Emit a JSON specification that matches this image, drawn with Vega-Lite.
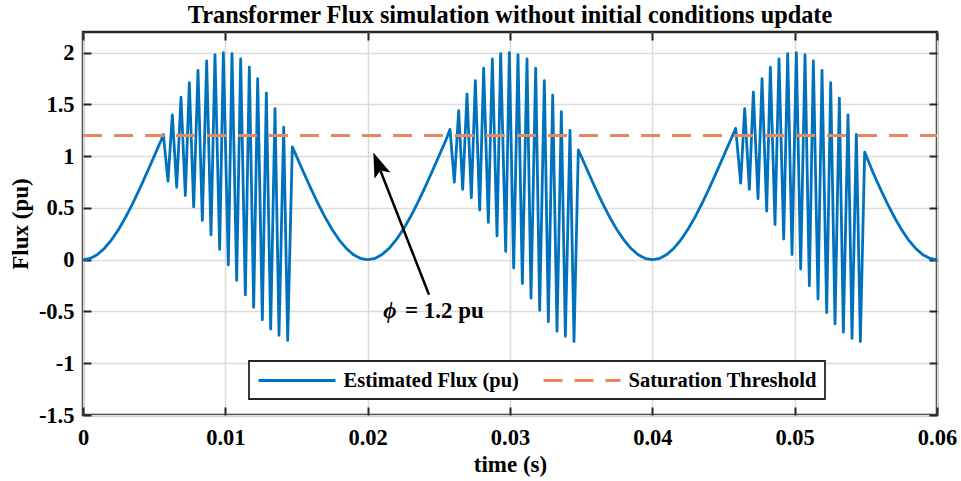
{
  "$schema": "https://vega.github.io/schema/vega-lite/v6.json",
  "width": 854,
  "height": 383,
  "autosize": {"type": "none"},
  "padding": {"left": 83, "top": 32, "right": 24, "bottom": 66},
  "background": "white",
  "title": {"text": "Transformer Flux simulation without initial conditions update", "font": "Liberation Serif", "fontSize": 24.3, "fontWeight": "bold", "color": "#000000", "anchor": "middle", "offset": 3},
  "config": {
    "view": {"stroke": "#262626", "strokeWidth": 2.5},
    "axis": {"labelFont": "Liberation Serif", "labelFontSize": 22.5, "labelFontWeight": "bold", "labelColor": "#000000", "titleFont": "Liberation Serif", "titleFontSize": 23, "titleFontWeight": "bold", "titleColor": "#000000", "domain": false, "tickColor": "#262626", "tickWidth": 2, "tickSize": -8, "gridColor": "#dcdcdc", "gridWidth": 1.5, "gridOpacity": 1, "labelOverlap": false, "labelFlush": false},
    "legend": {"strokeWidth": 1.8}
  },
  "datasets": {
    "flux": [
      {"t": 0, "v": 0, "s": "Estimated Flux (pu)"},
      {"t": 0.0005, "v": 0.0123, "s": "Estimated Flux (pu)"},
      {"t": 0.001, "v": 0.0489, "s": "Estimated Flux (pu)"},
      {"t": 0.0015, "v": 0.109, "s": "Estimated Flux (pu)"},
      {"t": 0.002, "v": 0.191, "s": "Estimated Flux (pu)"},
      {"t": 0.0025, "v": 0.2929, "s": "Estimated Flux (pu)"},
      {"t": 0.003, "v": 0.4122, "s": "Estimated Flux (pu)"},
      {"t": 0.0035, "v": 0.546, "s": "Estimated Flux (pu)"},
      {"t": 0.004, "v": 0.691, "s": "Estimated Flux (pu)"},
      {"t": 0.0045, "v": 0.8436, "s": "Estimated Flux (pu)"},
      {"t": 0.005, "v": 1.0, "s": "Estimated Flux (pu)"},
      {"t": 0.0055, "v": 1.1564, "s": "Estimated Flux (pu)"},
      {"t": 0.005644, "v": 1.21, "s": "Estimated Flux (pu)"},
      {"t": 0.005972, "v": 0.76, "s": "Estimated Flux (pu)"},
      {"t": 0.006276, "v": 1.40, "s": "Estimated Flux (pu)"},
      {"t": 0.006581, "v": 0.70, "s": "Estimated Flux (pu)"},
      {"t": 0.006885, "v": 1.57, "s": "Estimated Flux (pu)"},
      {"t": 0.00719, "v": 0.62, "s": "Estimated Flux (pu)"},
      {"t": 0.007471, "v": 1.71, "s": "Estimated Flux (pu)"},
      {"t": 0.007776, "v": 0.51, "s": "Estimated Flux (pu)"},
      {"t": 0.00808, "v": 1.83, "s": "Estimated Flux (pu)"},
      {"t": 0.008384, "v": 0.38, "s": "Estimated Flux (pu)"},
      {"t": 0.008689, "v": 1.92, "s": "Estimated Flux (pu)"},
      {"t": 0.008993, "v": 0.24, "s": "Estimated Flux (pu)"},
      {"t": 0.009274, "v": 1.98, "s": "Estimated Flux (pu)"},
      {"t": 0.009602, "v": 0.10, "s": "Estimated Flux (pu)"},
      {"t": 0.00986, "v": 2.0, "s": "Estimated Flux (pu)"},
      {"t": 0.010211, "v": -0.05, "s": "Estimated Flux (pu)"},
      {"t": 0.010469, "v": 1.99, "s": "Estimated Flux (pu)"},
      {"t": 0.010797, "v": -0.20, "s": "Estimated Flux (pu)"},
      {"t": 0.011078, "v": 1.94, "s": "Estimated Flux (pu)"},
      {"t": 0.011405, "v": -0.34, "s": "Estimated Flux (pu)"},
      {"t": 0.011686, "v": 1.86, "s": "Estimated Flux (pu)"},
      {"t": 0.011991, "v": -0.46, "s": "Estimated Flux (pu)"},
      {"t": 0.012272, "v": 1.75, "s": "Estimated Flux (pu)"},
      {"t": 0.0126, "v": -0.58, "s": "Estimated Flux (pu)"},
      {"t": 0.012881, "v": 1.61, "s": "Estimated Flux (pu)"},
      {"t": 0.013186, "v": -0.67, "s": "Estimated Flux (pu)"},
      {"t": 0.01349, "v": 1.46, "s": "Estimated Flux (pu)"},
      {"t": 0.013771, "v": -0.73, "s": "Estimated Flux (pu)"},
      {"t": 0.014099, "v": 1.28, "s": "Estimated Flux (pu)"},
      {"t": 0.01438, "v": -0.78, "s": "Estimated Flux (pu)"},
      {"t": 0.014707, "v": 1.09, "s": "Estimated Flux (pu)"},
      {"t": 0.015, "v": 1.0, "s": "Estimated Flux (pu)"},
      {"t": 0.0155, "v": 0.8436, "s": "Estimated Flux (pu)"},
      {"t": 0.016, "v": 0.691, "s": "Estimated Flux (pu)"},
      {"t": 0.0165, "v": 0.546, "s": "Estimated Flux (pu)"},
      {"t": 0.017, "v": 0.4122, "s": "Estimated Flux (pu)"},
      {"t": 0.0175, "v": 0.2929, "s": "Estimated Flux (pu)"},
      {"t": 0.018, "v": 0.191, "s": "Estimated Flux (pu)"},
      {"t": 0.0185, "v": 0.109, "s": "Estimated Flux (pu)"},
      {"t": 0.019, "v": 0.0489, "s": "Estimated Flux (pu)"},
      {"t": 0.0195, "v": 0.0123, "s": "Estimated Flux (pu)"},
      {"t": 0.02, "v": 0, "s": "Estimated Flux (pu)"},
      {"t": 0.0205, "v": 0.0123, "s": "Estimated Flux (pu)"},
      {"t": 0.021, "v": 0.0489, "s": "Estimated Flux (pu)"},
      {"t": 0.0215, "v": 0.109, "s": "Estimated Flux (pu)"},
      {"t": 0.022, "v": 0.191, "s": "Estimated Flux (pu)"},
      {"t": 0.0225, "v": 0.2929, "s": "Estimated Flux (pu)"},
      {"t": 0.023, "v": 0.4122, "s": "Estimated Flux (pu)"},
      {"t": 0.0235, "v": 0.546, "s": "Estimated Flux (pu)"},
      {"t": 0.024, "v": 0.691, "s": "Estimated Flux (pu)"},
      {"t": 0.0245, "v": 0.8436, "s": "Estimated Flux (pu)"},
      {"t": 0.025, "v": 1.0, "s": "Estimated Flux (pu)"},
      {"t": 0.0255, "v": 1.1564, "s": "Estimated Flux (pu)"},
      {"t": 0.025785, "v": 1.26, "s": "Estimated Flux (pu)"},
      {"t": 0.026089, "v": 0.75, "s": "Estimated Flux (pu)"},
      {"t": 0.026394, "v": 1.44, "s": "Estimated Flux (pu)"},
      {"t": 0.026675, "v": 0.68, "s": "Estimated Flux (pu)"},
      {"t": 0.02698, "v": 1.60, "s": "Estimated Flux (pu)"},
      {"t": 0.027284, "v": 0.60, "s": "Estimated Flux (pu)"},
      {"t": 0.027565, "v": 1.73, "s": "Estimated Flux (pu)"},
      {"t": 0.02787, "v": 0.48, "s": "Estimated Flux (pu)"},
      {"t": 0.02815, "v": 1.85, "s": "Estimated Flux (pu)"},
      {"t": 0.028478, "v": 0.36, "s": "Estimated Flux (pu)"},
      {"t": 0.028759, "v": 1.94, "s": "Estimated Flux (pu)"},
      {"t": 0.029087, "v": 0.23, "s": "Estimated Flux (pu)"},
      {"t": 0.029345, "v": 1.99, "s": "Estimated Flux (pu)"},
      {"t": 0.029697, "v": 0.08, "s": "Estimated Flux (pu)"},
      {"t": 0.029954, "v": 2.0, "s": "Estimated Flux (pu)"},
      {"t": 0.030259, "v": -0.08, "s": "Estimated Flux (pu)"},
      {"t": 0.030562, "v": 1.98, "s": "Estimated Flux (pu)"},
      {"t": 0.030867, "v": -0.23, "s": "Estimated Flux (pu)"},
      {"t": 0.031195, "v": 1.94, "s": "Estimated Flux (pu)"},
      {"t": 0.031476, "v": -0.37, "s": "Estimated Flux (pu)"},
      {"t": 0.031804, "v": 1.85, "s": "Estimated Flux (pu)"},
      {"t": 0.032085, "v": -0.49, "s": "Estimated Flux (pu)"},
      {"t": 0.032413, "v": 1.73, "s": "Estimated Flux (pu)"},
      {"t": 0.032694, "v": -0.60, "s": "Estimated Flux (pu)"},
      {"t": 0.032999, "v": 1.59, "s": "Estimated Flux (pu)"},
      {"t": 0.033303, "v": -0.69, "s": "Estimated Flux (pu)"},
      {"t": 0.033607, "v": 1.43, "s": "Estimated Flux (pu)"},
      {"t": 0.033888, "v": -0.74, "s": "Estimated Flux (pu)"},
      {"t": 0.034216, "v": 1.25, "s": "Estimated Flux (pu)"},
      {"t": 0.034497, "v": -0.79, "s": "Estimated Flux (pu)"},
      {"t": 0.034801, "v": 1.06, "s": "Estimated Flux (pu)"},
      {"t": 0.035, "v": 1.0, "s": "Estimated Flux (pu)"},
      {"t": 0.0355, "v": 0.8436, "s": "Estimated Flux (pu)"},
      {"t": 0.036, "v": 0.691, "s": "Estimated Flux (pu)"},
      {"t": 0.0365, "v": 0.546, "s": "Estimated Flux (pu)"},
      {"t": 0.037, "v": 0.4122, "s": "Estimated Flux (pu)"},
      {"t": 0.0375, "v": 0.2929, "s": "Estimated Flux (pu)"},
      {"t": 0.038, "v": 0.191, "s": "Estimated Flux (pu)"},
      {"t": 0.0385, "v": 0.109, "s": "Estimated Flux (pu)"},
      {"t": 0.039, "v": 0.0489, "s": "Estimated Flux (pu)"},
      {"t": 0.0395, "v": 0.0123, "s": "Estimated Flux (pu)"},
      {"t": 0.04, "v": 0, "s": "Estimated Flux (pu)"},
      {"t": 0.0405, "v": 0.0123, "s": "Estimated Flux (pu)"},
      {"t": 0.041, "v": 0.0489, "s": "Estimated Flux (pu)"},
      {"t": 0.0415, "v": 0.109, "s": "Estimated Flux (pu)"},
      {"t": 0.042, "v": 0.191, "s": "Estimated Flux (pu)"},
      {"t": 0.0425, "v": 0.2929, "s": "Estimated Flux (pu)"},
      {"t": 0.043, "v": 0.4122, "s": "Estimated Flux (pu)"},
      {"t": 0.0435, "v": 0.546, "s": "Estimated Flux (pu)"},
      {"t": 0.044, "v": 0.691, "s": "Estimated Flux (pu)"},
      {"t": 0.0445, "v": 0.8436, "s": "Estimated Flux (pu)"},
      {"t": 0.045, "v": 1.0, "s": "Estimated Flux (pu)"},
      {"t": 0.0455, "v": 1.1564, "s": "Estimated Flux (pu)"},
      {"t": 0.045856, "v": 1.27, "s": "Estimated Flux (pu)"},
      {"t": 0.046207, "v": 0.74, "s": "Estimated Flux (pu)"},
      {"t": 0.046488, "v": 1.46, "s": "Estimated Flux (pu)"},
      {"t": 0.046816, "v": 0.68, "s": "Estimated Flux (pu)"},
      {"t": 0.047097, "v": 1.62, "s": "Estimated Flux (pu)"},
      {"t": 0.047425, "v": 0.59, "s": "Estimated Flux (pu)"},
      {"t": 0.047706, "v": 1.75, "s": "Estimated Flux (pu)"},
      {"t": 0.048034, "v": 0.47, "s": "Estimated Flux (pu)"},
      {"t": 0.048291, "v": 1.86, "s": "Estimated Flux (pu)"},
      {"t": 0.048619, "v": 0.34, "s": "Estimated Flux (pu)"},
      {"t": 0.0489, "v": 1.94, "s": "Estimated Flux (pu)"},
      {"t": 0.049228, "v": 0.20, "s": "Estimated Flux (pu)"},
      {"t": 0.04951, "v": 1.99, "s": "Estimated Flux (pu)"},
      {"t": 0.049814, "v": 0.05, "s": "Estimated Flux (pu)"},
      {"t": 0.050118, "v": 2.0, "s": "Estimated Flux (pu)"},
      {"t": 0.050423, "v": -0.09, "s": "Estimated Flux (pu)"},
      {"t": 0.050727, "v": 1.98, "s": "Estimated Flux (pu)"},
      {"t": 0.051031, "v": -0.25, "s": "Estimated Flux (pu)"},
      {"t": 0.051313, "v": 1.92, "s": "Estimated Flux (pu)"},
      {"t": 0.05164, "v": -0.38, "s": "Estimated Flux (pu)"},
      {"t": 0.051922, "v": 1.83, "s": "Estimated Flux (pu)"},
      {"t": 0.05225, "v": -0.51, "s": "Estimated Flux (pu)"},
      {"t": 0.052531, "v": 1.71, "s": "Estimated Flux (pu)"},
      {"t": 0.052835, "v": -0.62, "s": "Estimated Flux (pu)"},
      {"t": 0.053139, "v": 1.56, "s": "Estimated Flux (pu)"},
      {"t": 0.05342, "v": -0.70, "s": "Estimated Flux (pu)"},
      {"t": 0.053748, "v": 1.40, "s": "Estimated Flux (pu)"},
      {"t": 0.05403, "v": -0.76, "s": "Estimated Flux (pu)"},
      {"t": 0.054334, "v": 1.21, "s": "Estimated Flux (pu)"},
      {"t": 0.054615, "v": -0.79, "s": "Estimated Flux (pu)"},
      {"t": 0.054919, "v": 1.04, "s": "Estimated Flux (pu)"},
      {"t": 0.0555, "v": 0.8436, "s": "Estimated Flux (pu)"},
      {"t": 0.056, "v": 0.691, "s": "Estimated Flux (pu)"},
      {"t": 0.0565, "v": 0.546, "s": "Estimated Flux (pu)"},
      {"t": 0.057, "v": 0.4122, "s": "Estimated Flux (pu)"},
      {"t": 0.0575, "v": 0.2929, "s": "Estimated Flux (pu)"},
      {"t": 0.058, "v": 0.191, "s": "Estimated Flux (pu)"},
      {"t": 0.0585, "v": 0.109, "s": "Estimated Flux (pu)"},
      {"t": 0.059, "v": 0.0489, "s": "Estimated Flux (pu)"},
      {"t": 0.0595, "v": 0.0123, "s": "Estimated Flux (pu)"},
      {"t": 0.06, "v": 0, "s": "Estimated Flux (pu)"},
      {"t": 0, "v": 1.2, "s": "Saturation Threshold"},
      {"t": 0.06, "v": 1.2, "s": "Saturation Threshold"}
    ],
    "arrow": [
      {"t": 0.02431, "v": -0.339, "t2": 0.0209, "v2": 0.86}
    ],
    "head": [
      {"t": 0.0204, "v": 1.037}
    ],
    "phi": [
      {"t": 0.02157, "v": -0.5, "label": "ϕ"}
    ],
    "eq": [
      {"t": 0.02262, "v": -0.5, "label": "= 1.2 pu"}
    ]
  },
  "layer": [
    {
      "data": {"name": "flux"},
      "mark": {"type": "line", "strokeWidth": 2.8, "strokeJoin": "round"},
      "encoding": {
        "x": {"field": "t", "type": "quantitative", "scale": {"domain": [0, 0.06], "nice": false, "zero": false},
              "axis": {"orient": "bottom", "values": [0, 0.01, 0.02, 0.03, 0.04, 0.05, 0.06], "labelExpr": "'' + datum.value", "labelPadding": 19, "title": "time (s)", "titlePadding": 5, "grid": true}},
        "y": {"field": "v", "type": "quantitative", "scale": {"domain": [-1.5, 2.2], "nice": false, "zero": false},
              "axis": {"orient": "left", "values": [-1.5, -1, -0.5, 0, 0.5, 1, 1.5, 2], "labelExpr": "'' + datum.value", "labelPadding": 17, "title": "Flux (pu)", "titlePadding": 6, "grid": true}},
        "color": {"field": "s", "type": "nominal",
                  "scale": {"domain": ["Estimated Flux (pu)", "Saturation Threshold"], "range": ["#0072BD", "#E8875B"]},
                  "legend": {"title": null, "orient": "none", "legendX": 166, "legendY": 329, "direction": "horizontal", "symbolType": "M-3.85,0L3.85,0", "symbolSize": 400, "symbolOffset": 28.5, "symbolStrokeWidth": 2.8, "labelFont": "Liberation Serif", "labelFontSize": 20.5, "labelFontWeight": "bold", "labelColor": "#000000", "labelOffset": 35, "columnPadding": 18, "padding": 8, "strokeColor": "#262626", "fillColor": "white", "labelLimit": 400}},
        "strokeDash": {"field": "s", "type": "nominal",
                  "scale": {"domain": ["Estimated Flux (pu)", "Saturation Threshold"], "range": [[1, 0], [19, 12]]},
                  "legend": {"title": null, "orient": "none", "legendX": 166, "legendY": 329, "direction": "horizontal", "symbolType": "M-3.85,0L3.85,0", "symbolSize": 400, "symbolOffset": 28.5, "symbolStrokeWidth": 2.8, "labelFont": "Liberation Serif", "labelFontSize": 20.5, "labelFontWeight": "bold", "labelColor": "#000000", "labelOffset": 35, "columnPadding": 18, "padding": 8, "strokeColor": "#262626", "fillColor": "white", "labelLimit": 400}}
      }
    },
    {
      "data": {"name": "arrow"},
      "mark": {"type": "rule", "strokeWidth": 2.5, "color": "#000000"},
      "encoding": {
        "x": {"field": "t", "type": "quantitative", "axis": {"orient": "top", "values": [0, 0.01, 0.02, 0.03, 0.04, 0.05, 0.06], "labels": false, "grid": false, "title": null}},
        "y": {"field": "v", "type": "quantitative", "axis": {"orient": "right", "values": [-1.5, -1, -0.5, 0, 0.5, 1, 1.5, 2], "labels": false, "grid": false, "title": null}},
        "x2": {"field": "t2"},
        "y2": {"field": "v2"}
      }
    },
    {
      "data": {"name": "head"},
      "mark": {"type": "point", "shape": "M0,0L0.55,1.6L0,1.25L-0.55,1.6Z", "size": 975, "filled": true, "color": "#000000", "opacity": 1, "angle": 338.6},
      "encoding": {
        "x": {"field": "t", "type": "quantitative", "axis": null},
        "y": {"field": "v", "type": "quantitative", "axis": null}
      }
    },
    {
      "data": {"name": "phi"},
      "mark": {"type": "text", "font": "Liberation Serif", "fontSize": 23, "fontWeight": "bold", "fontStyle": "italic", "align": "center", "baseline": "middle", "color": "#000000"},
      "encoding": {
        "x": {"field": "t", "type": "quantitative", "axis": null},
        "y": {"field": "v", "type": "quantitative", "axis": null},
        "text": {"field": "label"}
      }
    },
    {
      "data": {"name": "eq"},
      "mark": {"type": "text", "font": "Liberation Serif", "fontSize": 23, "fontWeight": "bold", "align": "left", "baseline": "middle", "color": "#000000"},
      "encoding": {
        "x": {"field": "t", "type": "quantitative", "axis": null},
        "y": {"field": "v", "type": "quantitative", "axis": null},
        "text": {"field": "label"}
      }
    }
  ],
  "resolve": {"axis": {"x": "independent", "y": "independent"}}
}
